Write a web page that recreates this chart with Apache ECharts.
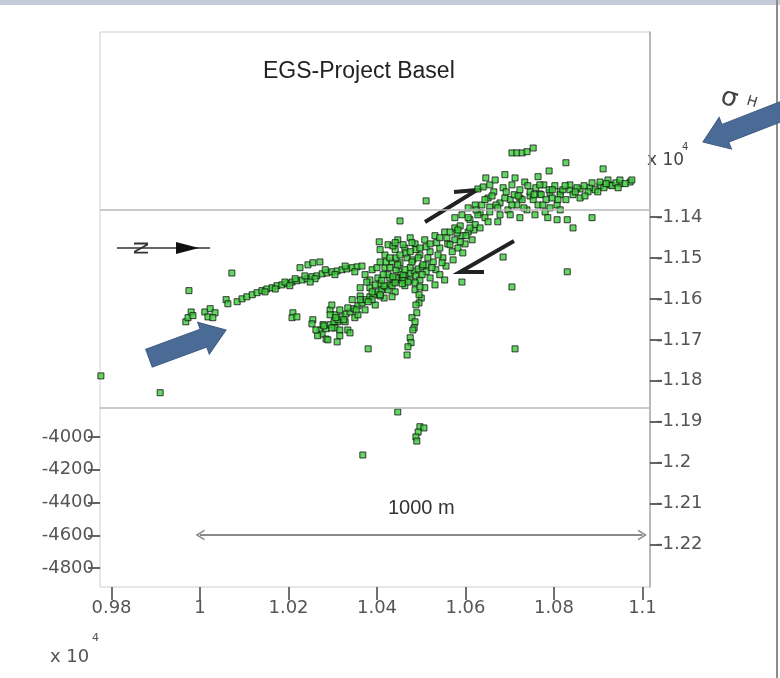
<!DOCTYPE html>
<html>
<head>
<meta charset="utf-8">
<script src="https://cdn.jsdelivr.net/npm/echarts@6/dist/echarts.min.js"></script>
<style>
  html, body { margin: 0; background: #fff; }
  #chart { width: 780px; height: 678px; }
</style>
</head>
<body>
<div id="chart"></div>
<script>
// easting / northing in metres (axes are labelled in units of 10^4 m)
const eastTicks = [9800, 10000, 10200, 10400, 10600, 10800, 11000];
const northTicks = [-11400, -11500, -11600, -11700, -11800, -11900, -12000, -12100, -12200];
const depthTicks = [-4000, -4200, -4400, -4600, -4800];

// isolated events and the south-west tail
const tailPts = [
  [9776, -11788], [9910, -11829], [9975, -11580], [10072, -11537],
  [9968, -11656], [9973, -11646], [9980, -11632], [9984, -11641],
  [10011, -11632], [10023, -11624], [10034, -11634], [10018, -11644], [10029, -11646],
  [10059, -11602], [10063, -11612],
  [10084, -11607], [10095, -11600], [10106, -11595], [10118, -11590], [10129, -11585],
  [10140, -11580], [10151, -11576], [10163, -11573], [10174, -11568], [10185, -11566],
  [10197, -11563], [10208, -11559], [10219, -11556], [10231, -11554], [10242, -11551],
  [10253, -11546], [10264, -11544], [10276, -11539], [10287, -11537], [10298, -11534],
  [10310, -11532], [10321, -11529], [10332, -11527], [10344, -11524], [10355, -11522],
  [10366, -11520], [10147, -11583], [10170, -11576], [10192, -11559], [10215, -11551],
  [10237, -11544], [10260, -11551], [10226, -11524], [10244, -11517], [10255, -11512],
  [10271, -11510], [10203, -11568], [10249, -11559], [10283, -11529], [10305, -11541],
  [10328, -11520], [10350, -11534]
];

// lower (southern) branch
const lowerBranch = [
  [10210, -11634], [10208, -11646], [10219, -11644], [10255, -11651], [10253, -11661],
  [10271, -11676], [10278, -11663], [10310, -11705], [10334, -11676], [10339, -11683],
  [10380, -11722], [10294, -11627], [10305, -11639], [10312, -11656], [10298, -11615],
  [10276, -11686], [10285, -11673], [10294, -11663], [10303, -11656], [10312, -11651],
  [10321, -11644], [10330, -11637], [10339, -11632], [10348, -11624], [10357, -11617],
  [10366, -11610], [10375, -11602], [10384, -11595], [10393, -11590], [10402, -11583],
  [10411, -11578], [10420, -11571], [10429, -11566], [10438, -11559], [10447, -11554],
  [10457, -11549], [10465, -11544], [10475, -11537], [10484, -11532], [10493, -11527],
  [10502, -11522], [10511, -11517], [10294, -11639], [10305, -11671], [10316, -11627],
  [10328, -11656], [10344, -11602], [10350, -11646], [10362, -11593], [10373, -11627],
  [10384, -11573], [10396, -11615], [10407, -11563], [10416, -11598], [10429, -11549],
  [10441, -11583], [10452, -11534], [10463, -11568], [10316, -11676], [10285, -11698],
  [10357, -11639], [10389, -11602], [10425, -11578],
  [10280, -11666], [10298, -11671], [10307, -11646], [10325, -11651], [10334, -11622],
  [10353, -11627], [10362, -11602], [10380, -11607], [10389, -11583], [10407, -11593],
  [10416, -11568], [10434, -11568], [10443, -11549], [10461, -11554], [10475, -11554],
  [10266, -11690], [10262, -11676], [10289, -11700], [10316, -11690]
];

// dense core around the injection well
const coreCluster = [
  [10373, -11541], [10389, -11529], [10402, -11549], [10418, -11524], [10425, -11541],
  [10434, -11510], [10443, -11529], [10452, -11512], [10459, -11541], [10468, -11500],
  [10475, -11524], [10481, -11505], [10488, -11544], [10497, -11493], [10504, -11517],
  [10511, -11534], [10520, -11485], [10527, -11510], [10533, -11529], [10542, -11476],
  [10549, -11500], [10556, -11520], [10560, -11466], [10570, -11485], [10576, -11456],
  [10583, -11476], [10592, -11446], [10599, -11466], [10606, -11437], [10615, -11456],
  [10396, -11566], [10411, -11554], [10441, -11561], [10470, -11559], [10497, -11554],
  [10520, -11549], [10542, -11541], [10553, -11554], [10531, -11566], [10508, -11573],
  [10486, -11578], [10418, -11493], [10441, -11480], [10463, -11476], [10486, -11466],
  [10508, -11456], [10531, -11446], [10553, -11437], [10576, -11427], [10447, -11456],
  [10475, -11451], [10425, -11468], [10405, -11461], [10452, -11410], [10511, -11361],
  [10436, -11471], [10459, -11468], [10479, -11463],
  [10384, -11554], [10400, -11524], [10414, -11541], [10429, -11524], [10436, -11546],
  [10447, -11517], [10457, -11563], [10463, -11529], [10479, -11510], [10486, -11561],
  [10493, -11500], [10502, -11541], [10515, -11500], [10524, -11524], [10538, -11493],
  [10547, -11512], [10565, -11468], [10572, -11505], [10588, -11461], [10601, -11446],
  [10619, -11432], [10420, -11510], [10443, -11500], [10465, -11488], [10488, -11480],
  [10511, -11473], [10535, -11463], [10558, -11451], [10581, -11439], [10377, -11559],
  [10362, -11573], [10407, -11590], [10434, -11595], [10407, -11480], [10441, -11463]
];

// main north-east trending band
const mainBand = [
  [10407, -11510], [10429, -11500], [10452, -11493], [10475, -11485], [10497, -11476],
  [10520, -11466], [10542, -11451], [10565, -11437], [10588, -11422], [10610, -11407],
  [10633, -11390], [10655, -11376], [10678, -11366], [10701, -11358], [10723, -11354],
  [10746, -11349], [10768, -11344], [10791, -11341], [10814, -11339], [10836, -11334],
  [10859, -11332], [10881, -11329], [10904, -11324], [10927, -11322], [10949, -11319],
  [10972, -11315]
];

// north-east cluster
const northEast = [
  [10622, -11419], [10628, -11395], [10637, -11371], [10644, -11402], [10651, -11354],
  [10655, -11388], [10664, -11339], [10669, -11371], [10678, -11395], [10685, -11329],
  [10689, -11354], [10696, -11383], [10705, -11322], [10710, -11346], [10716, -11371],
  [10723, -11334], [10728, -11358], [10734, -11315], [10739, -11383], [10746, -11339],
  [10753, -11358], [10759, -11329], [10764, -11371], [10771, -11346], [10777, -11322],
  [10782, -11358], [10789, -11334], [10796, -11354], [10802, -11324], [10807, -11371],
  [10814, -11346], [10820, -11334], [10827, -11358], [10836, -11322], [10843, -11346],
  [10852, -11329], [10859, -11354], [10868, -11324], [10877, -11339], [10886, -11317],
  [10893, -11334], [10904, -11315], [10913, -11329], [10922, -11310], [10931, -11324],
  [10940, -11317], [10949, -11310], [10961, -11319], [10976, -11310], [10628, -11332],
  [10640, -11327], [10655, -11322], [10646, -11305], [10667, -11310], [10689, -11297],
  [10712, -11305], [10673, -11412], [10701, -11395], [10723, -11402], [10757, -11395],
  [10780, -11388], [10791, -11378], [10814, -11383], [10786, -11402], [10807, -11407],
  [10830, -11407], [10843, -11427], [10886, -11402], [10764, -11302], [10789, -11288],
  [10827, -11268], [10911, -11283], [10705, -11244], [10716, -11244], [10728, -11244],
  [10739, -11241], [10753, -11232], [10592, -11395], [10606, -11378], [10576, -11402],
  [10622, -11371], [10583, -11432], [10633, -11427], [10651, -11412],
  [10644, -11358], [10660, -11349], [10673, -11378], [10692, -11339], [10705, -11371],
  [10719, -11349], [10732, -11378], [10741, -11324], [10755, -11346], [10768, -11322],
  [10775, -11371], [10796, -11334], [10809, -11358], [10825, -11324], [10848, -11339],
  [10870, -11349], [10899, -11339], [10918, -11319], [10945, -11329], [10606, -11402],
  [10624, -11383], [10610, -11427]
];

// near-vertical branch south of the core
const verticalBranch = [
  [10497, -11571], [10500, -11598], [10495, -11590], [10495, -11610], [10488, -11615],
  [10490, -11634], [10479, -11646], [10486, -11656], [10484, -11671], [10481, -11676],
  [10475, -11695], [10477, -11707], [10470, -11717], [10468, -11737]
];

const outliers = [
  [10592, -11559], [10594, -11488], [10685, -11498], [10705, -11571], [10830, -11534],
  [10712, -11722], [10447, -11876], [10497, -11912], [10506, -11915], [10493, -11925],
  [10488, -11937], [10490, -11947], [10368, -11981]
];

const panelLines = [-11383, -11866];
const scaleBar = { from: 10000, to: 11000, north: -12176, label: '1000 m' };

const fmt4 = (v) => String(+(v / 10000).toFixed(2));
const labelFont = { fontFamily: 'DejaVu Sans', fontSize: 18, color: '#555' };
const chevron = 'path://M0,10L5,0L10,10L8.4,10L5,3.2L1.6,10Z';
const blueArrow = (len) => [[0, 0], [-24, -17], [-24, -9.5], [-len, -9.5], [-len, 9.5], [-24, 9.5], [-24, 17]];

const chart = echarts.init(document.getElementById('chart'));

const groups = [tailPts, lowerBranch, coreCluster, mainBand, northEast, verticalBranch, outliers];

chart.setOption({
  animation: false,
  backgroundColor: '#fff',
  title: {
    text: 'EGS-Project Basel',
    left: 258,
    top: 55,
    textStyle: { fontFamily: 'Liberation Sans', fontSize: 23, fontWeight: 'normal', color: '#222' }
  },
  grid: { left: 100, right: 130, top: 32, bottom: 91, show: true, borderColor: '#cfcfcf', borderWidth: 1 },
  xAxis: {
    type: 'value',
    min: 9774,
    max: 11017,
    splitLine: { show: false },
    axisLine: { show: false },
    axisTick: { customValues: eastTicks, length: 13, lineStyle: { color: '#444', width: 1.5 } },
    axisLabel: { customValues: eastTicks, formatter: fmt4, margin: 12, ...labelFont }
  },
  yAxis: [
    {
      type: 'value',
      position: 'left',
      min: -4916,
      max: -1527,
      splitLine: { show: false },
      axisLine: { show: false },
      axisTick: { customValues: depthTicks, length: 12, lineStyle: { color: '#333', width: 1.5 } },
      axisLabel: { customValues: depthTicks, formatter: (v) => String(v), margin: 6, ...labelFont }
    },
    {
      type: 'value',
      position: 'right',
      min: -12303,
      max: -10949,
      splitLine: { show: false },
      axisLine: { show: true, lineStyle: { color: '#aaa', width: 1.5 } },
      axisTick: { customValues: northTicks, length: 12, lineStyle: { color: '#333', width: 1.5 } },
      axisLabel: { customValues: northTicks, formatter: fmt4, margin: 6, ...labelFont }
    }
  ],
  series: groups.map((g, i) => ({
    type: 'scatter',
    xAxisIndex: 0,
    yAxisIndex: 1,
    data: g,
    symbol: 'rect',
    symbolSize: 6,
    itemStyle: { color: '#3ccc3c', borderColor: '#111', borderWidth: 1 },
    markLine: i === 0 ? {
      silent: true,
      symbol: 'none',
      label: { show: false },
      lineStyle: { color: '#b8b8b8', width: 1.5, type: 'solid' },
      data: panelLines.map((y) => ({ yAxis: y }))
    } : i === 1 ? {
      silent: true,
      symbol: [chevron, chevron],
      symbolSize: [11, 9],
      lineStyle: { color: '#8a8a8a', width: 2, type: 'solid' },
      label: {
        show: true, position: 'middle', formatter: scaleBar.label, distance: 16,
        fontFamily: 'Liberation Sans', fontSize: 20, color: '#333'
      },
      data: [[{ coord: [scaleBar.from, scaleBar.north] }, { coord: [scaleBar.to, scaleBar.north] }]]
    } : undefined
  })),
  graphic: [
    { type: 'rect', shape: { x: 0, y: 0, width: 780, height: 5 }, style: { fill: '#c3ccd6' } },
    { type: 'line', shape: { x1: 777, y1: 0, x2: 777, y2: 678 }, style: { stroke: '#8c8c8c', lineWidth: 2 } },
    // sigma_H arrows
    { type: 'polygon', x: 226, y: 330, rotation: 0.35, shape: { points: blueArrow(82) },
      style: { fill: '#4b6b97', stroke: '#3e5b82', lineWidth: 1 } },
    { type: 'polygon', x: 703, y: 142, rotation: -2.77, shape: { points: blueArrow(110) },
      style: { fill: '#4b6b97', stroke: '#3e5b82', lineWidth: 1 } },
    { type: 'text', x: 725, y: 84, rotation: -0.3,
      style: { text: 'σ', font: '26px DejaVu Sans', fill: '#444' } },
    { type: 'text', x: 749, y: 94, rotation: -0.3,
      style: { text: 'H', font: '14px DejaVu Sans', fill: '#444' } },
    // shear-sense arrows
    { type: 'polyline', shape: { points: [[425, 222], [477, 190], [454, 192]] },
      style: { stroke: '#222', lineWidth: 4, fill: null } },
    { type: 'polyline', shape: { points: [[514, 241], [460, 272], [484, 272]] },
      style: { stroke: '#222', lineWidth: 4, fill: null } },
    // north arrow
    { type: 'line', shape: { x1: 117, y1: 248, x2: 210, y2: 248 }, style: { stroke: '#333', lineWidth: 1.5 } },
    { type: 'polygon', shape: { points: [[176, 242], [176, 254], [199, 248]] }, style: { fill: '#111' } },
    { type: 'text', x: 143, y: 248, rotation: Math.PI / 2,
      style: { text: 'N', font: '20px DejaVu Sans', fill: '#333', align: 'center', verticalAlign: 'middle' } },
    // x 10^4 multipliers
    { type: 'text', x: 647, y: 152, style: { text: 'x 10', font: '17px DejaVu Sans', fill: '#444' } },
    { type: 'text', x: 682, y: 142, style: { text: '4', font: '10px DejaVu Sans', fill: '#444' } },
    { type: 'text', x: 50, y: 648, style: { text: 'x 10', font: '18px DejaVu Sans', fill: '#555' } },
    { type: 'text', x: 92, y: 633, style: { text: '4', font: '11px DejaVu Sans', fill: '#555' } }
  ]
});
</script>
</body>
</html>
